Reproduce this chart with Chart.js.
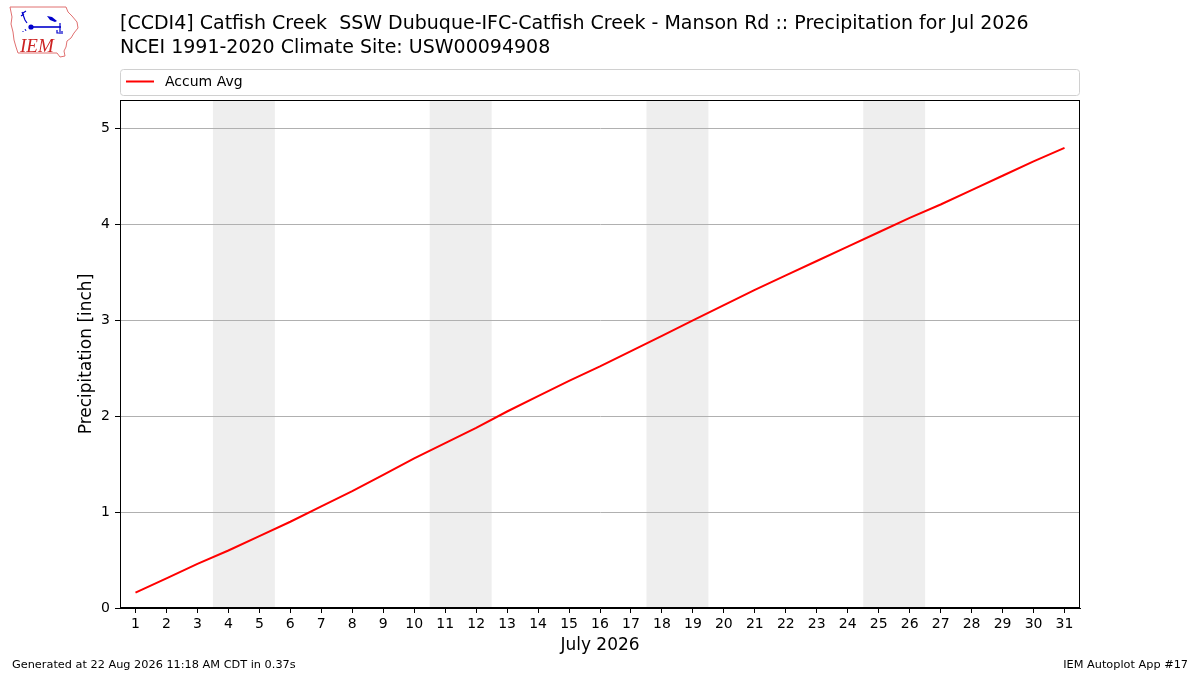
<!DOCTYPE html>
<html>
<head>
<meta charset="utf-8">
<script src="https://cdn.jsdelivr.net/npm/chart.js@4/dist/chart.umd.min.js"></script>
<style>
  html, body { margin: 0; padding: 0; background: #ffffff; }
  #wrap { position: relative; width: 1200px; height: 675px; }
  #c { position: absolute; left: 0; top: 0; }
  #logo { position: absolute; left: 0; top: 0; }
</style>
</head>
<body>
<div id="wrap">
  <canvas id="c" width="1200" height="675"></canvas>
  <svg id="logo" width="80" height="60" viewBox="0 0 80 60">
    <path d="M10,7 L66,7 L68,12 L72,16 L77,22 L78,28 L74,33 L71,38 L67,41 L66,47 L64,51 L65,56 L60,57 L57,53 L18,53 L16,47 L14,40 L13,32 L11,24 L12,17 Z"
          fill="#ffffff" stroke="#e07070" stroke-width="1"/>
    <path d="M22,12 L25,20 L27,23 M21,16 L24,14 M26,11 L23,13" stroke="#0000cc" stroke-width="1.2" fill="none"/>
    <circle cx="31" cy="27" r="2.6" fill="#0000cc"/>
    <path d="M31,27 L61,27" stroke="#0000cc" stroke-width="1.6"/>
    <path d="M47,16 L52,17 L57,21 L55,22 L50,20 Z" fill="#0000cc"/>
    <path d="M60,23 L60,34 M57,30 L57,33 L59,33 M62,31 L62,34" stroke="#0000cc" stroke-width="1.2" fill="none"/>
    <path d="M25,29 L26,31 M23,31 L23,32" stroke="#0000cc" stroke-width="1" fill="none"/>
    <text x="20" y="52" font-family="Liberation Serif, DejaVu Serif, serif" font-style="italic" font-size="19" fill="#cc2222">IEM</text>
  </svg>
</div>
<script>
// ---- data ----
const days = [1,2,3,4,5,6,7,8,9,10,11,12,13,14,15,16,17,18,19,20,21,22,23,24,25,26,27,28,29,30,31];
const accumAvg = [0.16,0.31,0.46,0.60,0.75,0.90,1.06,1.22,1.39,1.56,1.72,1.88,2.05,2.21,2.37,2.52,2.68,2.84,3.00,3.16,3.32,3.47,3.62,3.77,3.92,4.07,4.21,4.36,4.51,4.66,4.80];
const weekendStarts = [4, 11, 18, 25];   // Sat of each weekend (Sat+Sun shaded)
const yTicks = [0,1,2,3,4,5];
const titleLines = [
  "[CCDI4] Catfish Creek  SSW Dubuque-IFC-Catfish Creek - Manson Rd :: Precipitation for Jul 2026",
  "NCEI 1991-2020 Climate Site: USW00094908"
];
const legendLabel = "Accum Avg";
const footerLeft = "Generated at 22 Aug 2026 11:18 AM CDT in 0.37s";
const footerRight = "IEM Autoplot App #17";
const xTitle = "July 2026";
const yTitle = "Precipitation [inch]";

const FONT = "'DejaVu Sans', sans-serif";

const decor = {
  id: 'decor',
  beforeDraw(chart) {
    const {ctx, chartArea: a, scales: {x}} = chart;
    ctx.save();
    ctx.fillStyle = '#eeeeee';
    weekendStarts.forEach(d => {
      const x0 = x.getPixelForValue(d - 0.5);
      const x1 = x.getPixelForValue(d + 1.5);
      ctx.fillRect(x0, a.top, x1 - x0, a.bottom - a.top);
    });
    ctx.restore();
  },
  afterDraw(chart) {
    const {ctx, chartArea: a} = chart;
    ctx.save();
    // frame
    ctx.strokeStyle = '#000';
    ctx.lineWidth = 1;
    ctx.strokeRect(Math.round(a.left) + 0.5, Math.round(a.top) + 0.5,
                   Math.round(a.right - a.left) - 1, Math.round(a.bottom - a.top) - 1);
    // titles
    ctx.fillStyle = '#000';
    ctx.font = "19px " + FONT;
    ctx.textBaseline = 'middle';
    ctx.textAlign = 'left';
    ctx.fillText(titleLines[0], 120, 24);
    ctx.fillText(titleLines[1], 120, 48);
    // legend box
    const lx = 120.5, ly = 69.5, lw = 959, lh = 26, r = 3;
    ctx.beginPath();
    ctx.moveTo(lx + r, ly);
    ctx.lineTo(lx + lw - r, ly);
    ctx.quadraticCurveTo(lx + lw, ly, lx + lw, ly + r);
    ctx.lineTo(lx + lw, ly + lh - r);
    ctx.quadraticCurveTo(lx + lw, ly + lh, lx + lw - r, ly + lh);
    ctx.lineTo(lx + r, ly + lh);
    ctx.quadraticCurveTo(lx, ly + lh, lx, ly + lh - r);
    ctx.lineTo(lx, ly + r);
    ctx.quadraticCurveTo(lx, ly, lx + r, ly);
    ctx.closePath();
    ctx.fillStyle = 'rgba(255,255,255,0.8)';
    ctx.fill();
    ctx.strokeStyle = '#d0d0d0';
    ctx.stroke();
    ctx.strokeStyle = '#ff0000';
    ctx.lineWidth = 2;
    ctx.beginPath();
    ctx.moveTo(126, 81.5);
    ctx.lineTo(154, 81.5);
    ctx.stroke();
    ctx.fillStyle = '#000';
    ctx.font = "14px " + FONT;
    ctx.fillText(legendLabel, 165, 82);
    // footer
    ctx.font = "11.3px " + FONT;
    ctx.fillText(footerLeft, 12, 665);
    ctx.textAlign = 'right';
    ctx.fillText(footerRight, 1188, 665);
    ctx.restore();
  }
};

new Chart(document.getElementById('c'), {
  type: 'line',
  data: {
    datasets: [{
      label: legendLabel,
      data: days.map((d, i) => ({x: d, y: accumAvg[i]})),
      borderColor: '#ff0000',
      borderWidth: 2,
      pointRadius: 0,
      tension: 0,
      fill: false
    }]
  },
  options: {
    responsive: false,
    animation: false,
    devicePixelRatio: 1,
    layout: { padding: { left: 70, right: 120, top: 100, bottom: 15 } },
    plugins: { legend: { display: false }, title: { display: false }, tooltip: { enabled: false } },
    scales: {
      x: {
        type: 'linear',
        min: 0.5, max: 31.5,
        afterBuildTicks: s => { s.ticks = days.map(v => ({value: v})); },
        afterFit: s => { s.height = 52; },
        grid: { drawOnChartArea: false, drawTicks: true, tickLength: 5, tickColor: '#000' },
        border: { color: '#000', width: 1 },
        ticks: { color: '#000', font: { family: FONT, size: 14 }, padding: 3, maxRotation: 0, autoSkip: false },
        title: { display: true, text: xTitle, color: '#000', font: { family: FONT, size: 17 }, padding: { top: 0, bottom: 4 } }
      },
      y: {
        type: 'linear',
        min: 0, max: 5.3,
        afterBuildTicks: s => { s.ticks = yTicks.map(v => ({value: v})); },
        afterFit: s => { s.width = 50; },
        grid: { color: '#b0b0b0', lineWidth: 1, drawTicks: true, tickLength: 5, tickColor: '#000' },
        border: { color: '#000', width: 1 },
        ticks: { color: '#000', font: { family: FONT, size: 14 }, padding: 5 },
        title: { display: true, text: yTitle, color: '#000', font: { family: FONT, size: 17 }, padding: { top: 6, bottom: 0 } }
      }
    }
  },
  plugins: [decor]
});
</script>
</body>
</html>
